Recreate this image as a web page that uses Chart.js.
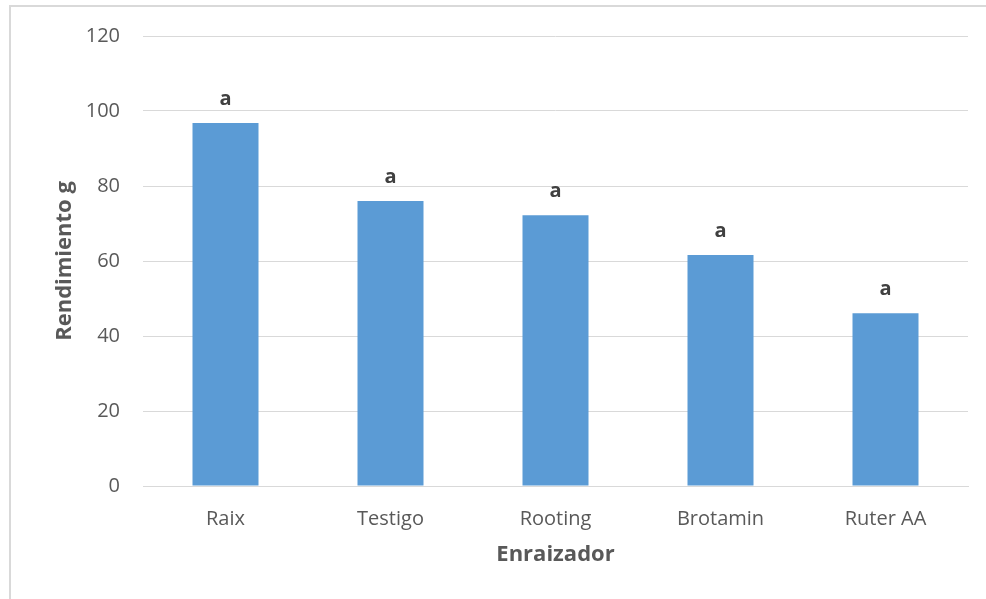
<!DOCTYPE html>
<html>
<head>
<meta charset="utf-8">
<script src="https://cdn.jsdelivr.net/npm/chart.js@4"></script>
<style>
  html, body { margin: 0; padding: 0; background: #fff; }
  #frame {
    position: absolute; left: 9px; top: 5px; width: 1200px; height: 800px;
    border: 2px solid #d9d9d9; box-sizing: border-box;
  }
  #wrap { position: absolute; left: 0; top: 0; width: 986px; height: 599px; }
</style>
</head>
<body>
<div id="frame"></div>
<div id="wrap"><canvas id="myChart"></canvas></div>
<script>
var categories = ['Raix', 'Testigo', 'Rooting', 'Brotamin', 'Ruter AA'];
var rendimiento = [96.8, 76, 72.2, 61.6, 46.1];
var letters = ['a', 'a', 'a', 'a', 'a'];
var yTicks = [0, 20, 40, 60, 80, 100, 120];

// letters over the bars
var letterPlugin = {
    id: 'letters',
    afterDatasetsDraw: function(chart) {
        var ctx = chart.ctx;
        var meta = chart.getDatasetMeta(0);
        ctx.save();
        ctx.font = 'bold 20px "Open Sans"';
        ctx.fillStyle = '#404040';
        ctx.textAlign = 'center';
        ctx.textBaseline = 'alphabetic';
        meta.data.forEach(function(bar, i) {
            ctx.fillText(letters[i], bar.x, bar.y - 18);
        });
        ctx.restore();
    }
};

var ctx = document.getElementById('myChart').getContext('2d');
var chart = new Chart(ctx, {
    type: 'bar',
    data: {
        labels: categories,
        datasets: [{
            label: 'Rendimiento g',
            backgroundColor: '#5b9bd5',
            borderWidth: 0,
            barPercentage: 0.8,
            categoryPercentage: 0.5,
            data: rendimiento
        }]
    },
    options: {
        responsive: true,
        maintainAspectRatio: false,
        animation: false,
        layout: { padding: { left: 0, right: 18, top: 36, bottom: 0 } },
        plugins: {
            legend: { display: false },
            tooltip: { enabled: false }
        },
        scales: {
            x: {
                grid: { display: false, drawTicks: false },
                border: { color: '#d9d9d9', width: 1 },
                ticks: {
                    color: '#595959',
                    font: { family: 'Open Sans', size: 20 },
                    padding: 21,
                    maxRotation: 0
                },
                title: {
                    display: true,
                    text: 'Enraizador',
                    color: '#595959',
                    font: { family: 'Open Sans', size: 22, weight: 'bold' },
                    padding: { top: 0, bottom: 31 }
                },
                afterFit: function(scale) { scale.height = 113; }
            },
            y: {
                min: 0,
                max: 120,
                afterBuildTicks: function(scale) {
                    scale.ticks = yTicks.map(function(v) { return { value: v }; });
                },
                grid: { color: '#d9d9d9', lineWidth: 1, drawTicks: false },
                border: { display: false },
                ticks: {
                    color: '#595959',
                    font: { family: 'Open Sans', size: 20 },
                    padding: 23
                },
                title: {
                    display: true,
                    text: 'Rendimiento g',
                    color: '#595959',
                    font: { family: 'Open Sans', size: 22, weight: 'bold' },
                    padding: { top: 52, bottom: 0 }
                },
                afterFit: function(scale) { scale.width = 143; }
            }
        }
    },
    plugins: [letterPlugin]
});
</script>
</body>
</html>
